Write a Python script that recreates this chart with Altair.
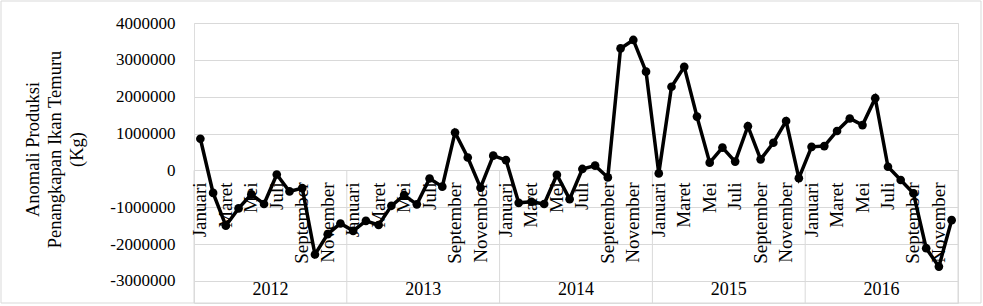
import altair as alt
import pandas as pd

years = [2012, 2013, 2014, 2015, 2016]
months = ["Januari", "Februari", "Maret", "April", "Mei", "Juni", "Juli",
          "Agustus", "September", "Oktober", "November", "Desember"]
shown_months = ["Januari", "Maret", "Mei", "Juli", "September", "November"]

v2012 = [860000, -610000, -1500000, -1030000, -650000, -910000, -110000, -570000, -480000, -2280000, -1730000, -1440000]
v2013 = [-1640000, -1370000, -1480000, -960000, -670000, -920000, -220000, -440000, 1030000, 350000, -470000, 400000]
v2014 = [280000, -880000, -850000, -910000, -120000, -780000, 40000, 130000, -190000, 3310000, 3540000, 2680000]
v2015 = [-80000, 2270000, 2810000, 1460000, 210000, 620000, 240000, 1200000, 300000, 750000, 1340000, -210000]
v2016 = [640000, 660000, 1070000, 1410000, 1230000, 1960000, 100000, -260000, -620000, -2110000, -2610000, -1350000]

y_ticks = [-3000000, -2000000, -1000000, 0, 1000000, 2000000, 3000000, 4000000]

series = [v2012, v2013, v2014, v2015, v2016]
rows = []
for yi, (yr, vals) in enumerate(zip(years, series)):
    for mi, (m, v) in enumerate(zip(months, vals)):
        rows.append({"idx": yi * 12 + mi, "year": yr, "month": m,
                     "label": m if m in shown_months else "", "value": v})
df = pd.DataFrame(rows)
df_labels = df[df["label"] != ""]

df_years = pd.DataFrame({"year": [str(y) for y in years],
                         "mid": [i * 12 + 5.5 for i in range(len(years))]})
df_sep = pd.DataFrame({"b": [i * 12 - 0.5 for i in range(len(years) + 1)]})

Y_MIN = -3597000
Y_MAX = 4000000
YEAR_Y = -3244000
FONT = "Liberation Serif"

xscale = alt.Scale(domain=[-0.5, 59.5], nice=False, zero=False)
yscale = alt.Scale(domain=[Y_MIN, Y_MAX], nice=False, zero=False)

yaxis = alt.Axis(
    values=y_ticks, labelExpr="'' + datum.value",
    labelOverlap=False,
    title=["Anomali Produksi", "Penangkapan Ikan Temuru", "(Kg)"],
    titleFont=FONT, titleFontSize=18.5, titleFontWeight="normal",
    titleColor="black", titleAngle=270, titleAlign="center",
    titleBaseline="top", titleLineHeight=22,
    titleX=-171, titleY=126,
    labelFont=FONT, labelFontSize=17, labelColor="black",
    labelPadding=19, ticks=False, domain=False,
    grid=True, gridColor="#d9d9d9", gridWidth=1,
)

base = alt.Chart(df).encode(
    x=alt.X("idx:Q", scale=xscale, axis=None),
    y=alt.Y("value:Q", scale=yscale, axis=yaxis),
)
line = base.mark_line(color="black", strokeWidth=3.5)
pts = base.mark_circle(size=75, color="black", opacity=1)

border = alt.Chart(pd.DataFrame({"a": [0]})).mark_rect(
    filled=False, stroke="#d9d9d9", strokeWidth=1
).encode(x=alt.value(-193), x2=alt.value(787), y=alt.value(-22), y2=alt.value(280))

seps = alt.Chart(df_sep).mark_rule(color="#d9d9d9", strokeWidth=1).encode(
    x=alt.X("b:Q", scale=xscale, axis=None),
    y=alt.datum(0, scale=yscale, axis=yaxis),
    y2=alt.datum(Y_MIN),
)

month_text = alt.Chart(df_labels).mark_text(
    angle=270, align="right", baseline="middle", dx=-12,
    font=FONT, fontSize=19, color="black"
).encode(
    x=alt.X("idx:Q", scale=xscale, axis=None),
    y=alt.datum(0, scale=yscale, axis=yaxis),
    text="label:N",
)

year_text = alt.Chart(df_years).mark_text(
    align="center", baseline="middle", font=FONT, fontSize=18, color="black"
).encode(
    x=alt.X("mid:Q", scale=xscale, axis=None),
    y=alt.datum(YEAR_Y, scale=yscale, axis=yaxis),
    text="year:N",
)

chart = alt.layer(border, seps, month_text, year_text, line, pts).properties(
    width=764, height=280,
    autosize=alt.AutoSizeParams(type="none"),
    padding={"left": 194, "top": 23, "right": 25, "bottom": 3},
).configure_view(stroke=None).configure_axis(
    labelOverlap=False
).configure(background="white")

chart.save("out.html", embed_options={"renderer": "svg", "actions": False})
